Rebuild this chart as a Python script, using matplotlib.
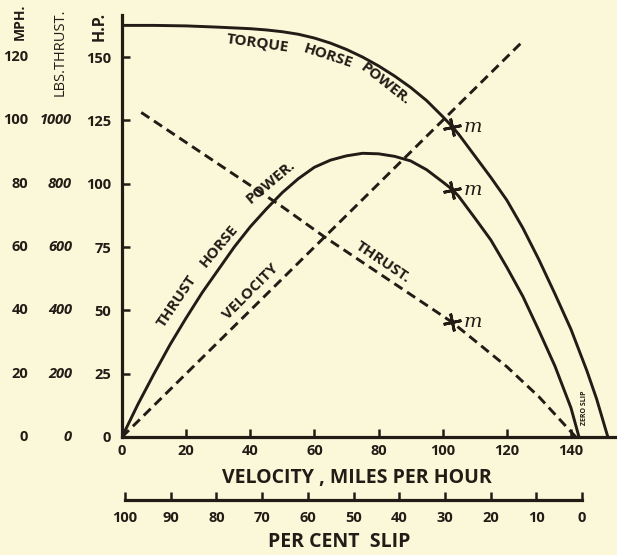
import numpy as np
import matplotlib
matplotlib.use('Agg')
from matplotlib import pyplot as plt

# speeds in mph, power in h.p., thrust in lbs
torque_v = [0, 10, 20, 30, 40, 45, 50, 55, 60, 65, 70, 75, 80, 85, 90, 95, 100, 103,
            105, 110, 115, 120, 125, 130, 135, 140, 145, 148, 151.5]
torque_hp = [162.5, 162.5, 162.3, 161.8, 161.2, 160.7, 160, 159, 157.5, 155.5, 153, 150,
             146.5, 142.5, 138, 132.8, 126.5, 122.5, 119.5, 111, 102.5, 93.5, 82.5, 70,
             56.5, 42.5, 26, 15, 0]

thrust_hp_v = [0, 5, 10, 15, 20, 25, 30, 35, 40, 45, 50, 55, 60, 65, 70, 75, 80, 85, 90,
               95, 100, 103, 105, 110, 115, 120, 125, 130, 135, 140, 142.5]
thrust_hp = [0, 13, 25, 36.5, 47, 57, 66, 75, 83, 90, 96.5, 102, 106.5, 109.3, 111, 112,
             111.8, 110.8, 109, 105.5, 100.7, 97.7, 95, 86.5, 77.8, 67, 55.5, 42, 28, 11.5, 0]

velocity_v = [0, 124.5]
velocity_mph = [0, 124.5]

thrust_v = [6, 50, 63, 103, 120, 130, 141.5]
thrust_lbs = [1025, 727, 633, 362, 222, 127, 0]

mark_v = 103
mark_torque = 122.5
mark_thrust_hp = 97.7
mark_thrust_lbs = 362

hp_ticks = [0, 25, 50, 75, 100, 125, 150]
mph_labels = ['0', '20', '40', '60', '80', '100', '120']
lbs_labels = ['0', '200', '400', '600', '800', '1000', '']
vel_ticks = [0, 20, 40, 60, 80, 100, 120, 140]
slip_ticks = [100, 90, 80, 70, 60, 50, 40, 30, 20, 10, 0]

# scales share the h.p. axis
hp_per_mph = 1.25
hp_per_lb = 0.125

bg = '#fbf8d9'
ink = '#241a16'
W, H = 617, 555

plt.rcParams['font.family'] = ['Open Sans', 'DejaVu Sans']
plt.rcParams['font.weight'] = 'bold'
plt.rcParams['lines.scale_dashes'] = False

fig = plt.figure(figsize=(W / 100, H / 100), dpi=100, facecolor=bg)


def fx(px):
    return px / W


def fy(py):
    return 1 - py / H


ax = fig.add_axes([fx(122), fy(437), fx(617 - 122), (437 - 15) / H])
ax.set_facecolor('none')
ax.set_xlim(0, (617 - 122) / 3.207)
ax.set_ylim(0, 422 / 2.533)
for s in ['top', 'right']:
    ax.spines[s].set_visible(False)
for s in ['left', 'bottom']:
    ax.spines[s].set_linewidth(2.3)
    ax.spines[s].set_color(ink)

ax.set_xticks(vel_ticks)
ax.set_yticks(hp_ticks)
ax.tick_params(direction='in', length=6, width=1.8, color=ink, labelcolor=ink,
               labelsize=10.5)
ax.tick_params(axis='x', pad=5)
ax.tick_params(axis='y', pad=8)

dash = (7, 4)
ax.plot(torque_v, torque_hp, color=ink, lw=2.1, solid_joinstyle='round')
ax.plot(thrust_hp_v, thrust_hp, color=ink, lw=2.1, solid_joinstyle='round')
ax.plot(velocity_v, np.array(velocity_mph) * hp_per_mph, color=ink, lw=2.1,
        dashes=dash)
ax.plot(thrust_v, np.array(thrust_lbs) * hp_per_lb, color=ink, lw=2.1,
        dashes=dash)

marks = [mark_torque, mark_thrust_hp, mark_thrust_lbs * hp_per_lb]
for y in marks:
    ax.plot([mark_v], [y], linestyle='none', marker=(4, 2, 12), markersize=13,
            markeredgewidth=2, color=ink)
    ax.annotate('m', xy=(mark_v, y), xytext=(21, 0), textcoords='offset pixels',
                ha='center', va='center', fontsize=14, style='italic',
                family='DejaVu Serif', weight='normal', color=ink)

# extra scales on the left
for i in range(len(hp_ticks)):
    ax.annotate(lbs_labels[i], xy=(0, hp_ticks[i]), xycoords=('axes fraction', 'data'),
                xytext=(-50, 0), textcoords='offset pixels', ha='right', va='center',
                fontsize=10.5, color=ink, style='italic')
    ax.annotate(mph_labels[i], xy=(0, hp_ticks[i]), xycoords=('axes fraction', 'data'),
                xytext=(-94, 0), textcoords='offset pixels', ha='right', va='center',
                fontsize=10.5, color=ink)

fig.text(fx(20), fy(22), 'MPH.', rotation=90, ha='center', va='center',
         fontsize=10, color=ink)
fig.text(fx(60), fy(52), 'LBS.THRUST.', rotation=90, ha='center', va='center',
         fontsize=10.5, color=ink, weight='normal')
fig.text(fx(100), fy(26), 'H.P.', rotation=90, ha='center', va='center',
         fontsize=11.5, color=ink)

fig.text(fx(357), fy(478), 'VELOCITY , MILES PER HOUR', ha='center', va='center',
         fontsize=14, color=ink)

# percent slip scale
ax2 = fig.add_axes([fx(125), fy(500), fx(582 - 125), 0.001])
ax2.set_facecolor('none')
ax2.set_xlim(100, 0)
ax2.set_yticks([])
for s in ['top', 'right', 'left']:
    ax2.spines[s].set_visible(False)
ax2.spines['bottom'].set_linewidth(2.3)
ax2.spines['bottom'].set_color(ink)
ax2.set_xticks(slip_ticks)
ax2.tick_params(direction='in', length=6, width=1.8, color=ink, labelcolor=ink,
                labelsize=10.5, pad=8)
fig.text(fx(339), fy(542), 'PER CENT  SLIP', ha='center', va='center',
         fontsize=14, color=ink)

# curve labels
def label(txt, x, y, rot, size=11):
    fig.text(fx(x), fy(y), txt, rotation=rot, rotation_mode='anchor',
             ha='center', va='center', fontsize=size, color=ink)

label('TORQUE', 258, 43, -8)
label('HORSE', 328, 56, -18)
label('POWER.', 385, 84, -38)
label('THRUST', 177, 301, 56)
label('HORSE', 219, 246, 50)
label('POWER.', 271, 182, 40)
label('VELOCITY', 251, 292, 45)
label('THRUST.', 383, 262, -34)
label('ZERO SLIP', 585, 408, 90, size=5)

fig.savefig('out.png', dpi=100, facecolor=bg)
